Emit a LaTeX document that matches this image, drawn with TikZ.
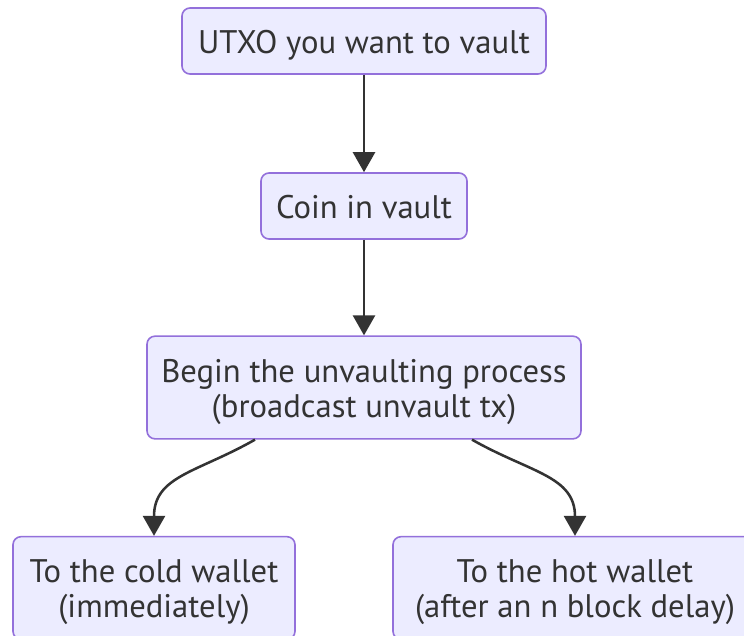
\documentclass[tikz,border=0pt]{standalone}
\usepackage{fontspec}
\setmainfont{PT Sans}
\usetikzlibrary{arrows.meta,calc}
\definecolor{boxfill}{HTML}{ECECFF}
\definecolor{boxline}{HTML}{9370DB}
\definecolor{ink}{HTML}{333333}
% box label: centred lines, set a little below the geometric centre
\newcommand\boxtext[1]{\raisebox{-4pt}[\height][\depth]{\renewcommand\arraystretch{1}%
  \begin{tabular}{@{}c@{}}#1\end{tabular}}}
\begin{document}
\begin{tikzpicture}[x=0.75pt,y=-0.75pt,
  flowbox/.style={draw=boxline,fill=boxfill,line width=1.2pt,rounded corners=6pt,
    text=ink,inner sep=0pt,font=\fontsize{24.5}{26.3}\selectfont},
  flowarrow/.style={draw=ink,line width=1.9pt,
    -{Triangle[length=15pt,width=16.5pt]}}]
  \useasboundingbox (0,0) rectangle (744,636);
  \fill[white] (0,0) rectangle (744,636);
  \clip (0,0) rectangle (744,636);

  \node[flowbox,minimum width=273pt,minimum height=49.5pt] (utxo) at (364,41)
    {\boxtext{UTXO you want to vault}};
  \node[flowbox,minimum width=154.5pt,minimum height=49.5pt] (coin) at (364,206)
    {\boxtext{Coin in vault}};
  \node[flowbox,minimum width=325.5pt,minimum height=77pt] (begin) at (364,387.5)
    {\boxtext{Begin the unvaulting process\\(broadcast unvault tx)}};
  \node[flowbox,minimum width=211.5pt,minimum height=77pt] (cold) at (154,588)
    {\boxtext{To the cold wallet\\(immediately)}};
  \node[flowbox,minimum width=273pt,minimum height=77pt] (hot) at (575,588)
    {\boxtext{To the hot wallet\\(after an n block delay)}};

  \draw[flowarrow] (utxo) -- (coin);
  \draw[flowarrow] (coin) -- (begin);
  \draw[flowarrow] ($(begin.south)+(-109,0)$) .. controls +(-58,33) and +(0,-60) .. (cold.north);
  \draw[flowarrow] ($(begin.south)+(108,0)$) .. controls +(58,33) and +(0,-60) .. (hot.north);
\end{tikzpicture}
\end{document}
